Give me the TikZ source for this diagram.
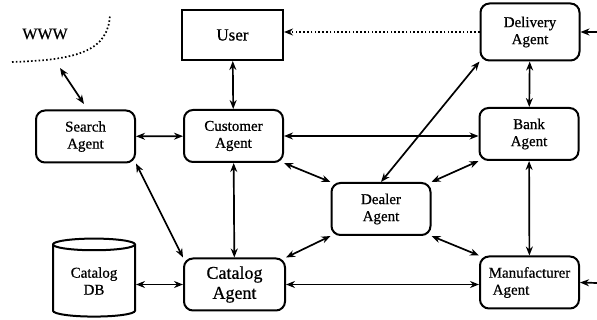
\documentclass[tikz,border=0pt]{standalone}
\usepackage{fontspec}
\setmainfont{Liberation Serif}[BoldFont={Liberation Serif},BoldFeatures={FakeBold=0.7}]
\usetikzlibrary{arrows.meta,shapes.geometric,calc}

\begin{document}
\begin{tikzpicture}[x=1pt,y=-1pt,
  every node/.style={font=\bfseries},
  agent/.style={draw,line width=2pt,rounded corners=9pt,align=center,
    inner sep=0pt,minimum width=99pt,minimum height=52pt,
    font=\fontsize{15}{17}\selectfont\bfseries},
  plainbox/.style={draw,line width=2pt,inner sep=0pt,
    minimum width=101pt,minimum height=50pt,font=\fontsize{17}{20}\selectfont\bfseries},
  store/.style={draw,cylinder,shape border rotate=90,aspect=0.25,
    line width=2pt,inner sep=0pt,align=center,
    minimum width=82pt,minimum height=78pt,font=\fontsize{15}{17}\selectfont\bfseries},
  link/.style={line width=1.7pt,{Stealth[length=9pt,width=7pt]}-{Stealth[length=9pt,width=7pt]}},
  onelink/.style={line width=1.7pt,-{Stealth[length=9pt,width=7pt]}},
  dotlink/.style={line width=1.7pt,dash pattern=on 1.6pt off 2.2pt,-{Stealth[length=9pt,width=7pt]}},
]
\useasboundingbox (0,0) rectangle (597,320);

% the web and its boundary
\node[font=\fontsize{16}{18}\selectfont\bfseries] (www) at (45,34) {WWW};
\draw[line width=1.7pt,dash pattern=on 1.6pt off 2.2pt]
  (12,62) .. controls (80,60) and (108,50) .. (110,15);
\coordinate (webend) at (60,68);
\coordinate (searchend) at (84,104);

% nodes
\node[plainbox] (user) at (232.5,35) {User};
\node[agent,minimum height=57pt] (delivery) at (530,32) {Delivery\\Agent};
\node[agent] (search) at (85.5,136.5) {Search\\Agent};
\node[agent] (customer) at (233.5,136) {Customer\\Agent};
\node[agent] (bank) at (529,134) {Bank\\Agent};
\node[agent] (dealer) at (381,209) {Dealer\\Agent};
\node[agent,minimum width=101pt,font=\fontsize{18}{20}\selectfont\bfseries] (catalog) at (234.5,284.5) {Catalog\\Agent};
\node[agent,align=left] (manu) at (529.5,282.5) {Manufacturer\\\hspace{4pt}Agent};
\node[store] (db) at (94,281) {Catalog\\DB};

% outside connections at the right edge
\coordinate (rightA) at (597,32);
\coordinate (rightB) at (597,283);

% connectors
\draw[link] (webend) -- (searchend);
\draw[dotlink] (delivery.west) -- (delivery.west -| user.east);
\draw[link] (user) -- (customer);
\draw[link] (delivery) -- (bank);
\draw[link] (bank) -- (manu);
\draw[link] (search) -- (customer);
\draw[link] (customer.east) -- (customer.east -| bank.west);
\draw[link] (customer) -- (catalog);
\draw[link] (catalog.east) -- (catalog.east -| manu.west);
\draw[link] (catalog.west) -- (catalog.west -| db.east);
\draw[link] (search.south east) -- (catalog.north west);
\draw[link] (customer.south east) -- (dealer.north west);
\draw[link] (dealer.north east) -- (bank.south west);
\draw[link] (catalog.north east) -- (dealer.south west);
\draw[link] (dealer.south east) -- (manu.north west);
\draw[link] (dealer.north) -- (delivery.south west);
\draw[onelink] (rightA) -- (delivery.east);
\draw[onelink] (rightB) -- (manu.east);
\end{tikzpicture}
\end{document}
